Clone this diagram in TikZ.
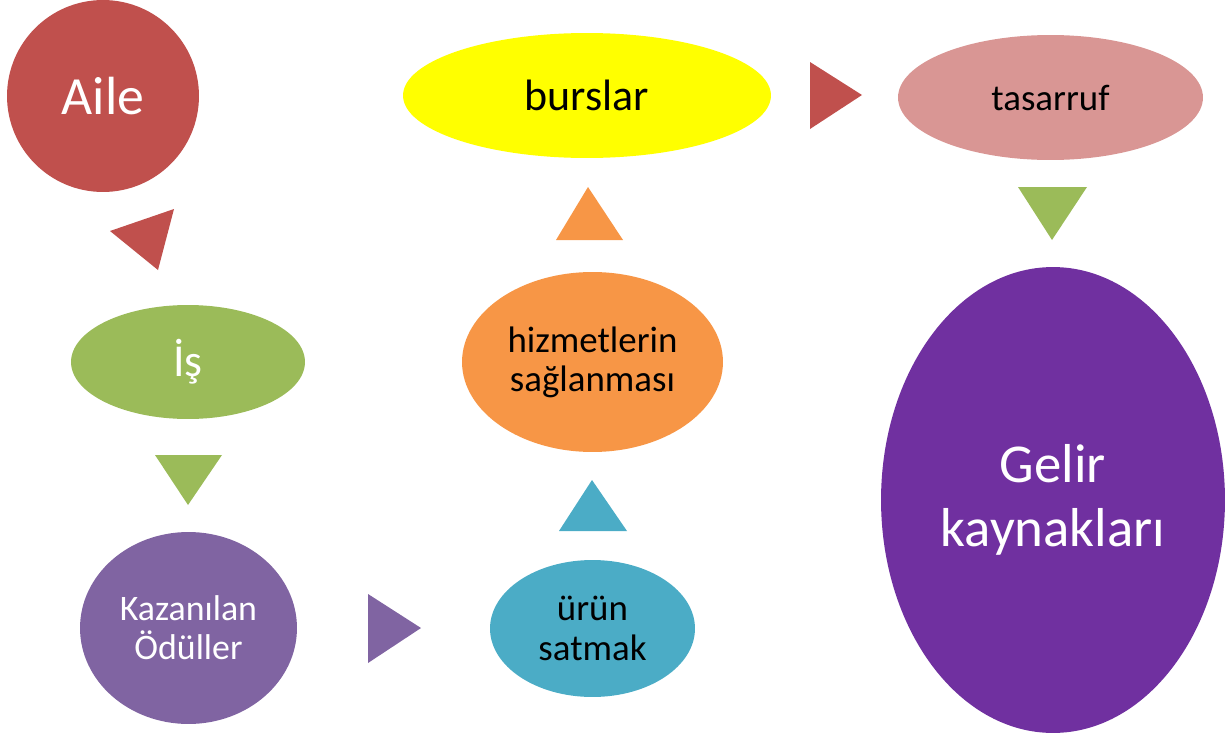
\documentclass[tikz,border=0pt]{standalone}
\usepackage{fontspec}
\setmainfont{Carlito}
\usepackage{tikz}
\usepackage{xcolor}
\usetikzlibrary{shapes.geometric}

\definecolor{aileRed}{HTML}{C0504D}
\definecolor{isGreen}{HTML}{9BBB59}
\definecolor{odulPurple}{HTML}{8064A2}
\definecolor{urunTeal}{HTML}{4BACC6}
\definecolor{hizmetOrange}{HTML}{F79646}
\definecolor{bursYellow}{HTML}{FFFF00}
\definecolor{tasarrufPink}{HTML}{D99694}
\definecolor{gelirPurple}{HTML}{7030A0}

\begin{document}
\begin{tikzpicture}[x=0.02cm,y=-0.02cm]
  \tikzstyle{blob}=[ellipse,inner sep=0pt,align=center]
  \useasboundingbox (0,0) rectangle (1231,737);

  \node[blob,fill=aileRed,text=white,minimum width=3.84cm,minimum height=3.84cm,
        font=\fontsize{30.6}{36}\selectfont] (aile) at (103,96) {Aile};
  \node[blob,fill=isGreen,text=white,minimum width=4.68cm,minimum height=2.28cm,
        font=\fontsize{26}{31}\selectfont] (is) at (188,362) {İş};
  \node[blob,fill=odulPurple,text=white,minimum width=4.34cm,minimum height=3.84cm,
        font=\fontsize{20.4}{22.1}\selectfont] (odul) at (188.5,628) {Kazanılan\\Ödüller};
  \node[blob,fill=urunTeal,minimum width=4.10cm,minimum height=2.74cm,
        font=\fontsize{21}{22.7}\selectfont] (urun) at (592.5,628.5) {ürün\\satmak};
  \node[blob,fill=hizmetOrange,minimum width=5.22cm,minimum height=3.60cm,
        font=\fontsize{21}{22.1}\selectfont] (hizmet) at (592.5,362) {hizmetlerin\\sağlanması};
  \node[blob,fill=bursYellow,minimum width=7.36cm,minimum height=2.50cm,
        font=\fontsize{25}{30}\selectfont] (burs) at (587,95.5) {burslar};
  \node[blob,fill=tasarrufPink,minimum width=6.10cm,minimum height=2.50cm,
        font=\fontsize{21}{25}\selectfont] (tasarruf) at (1050.5,97.5) {tasarruf};
  \node[blob,fill=gelirPurple,text=white,minimum width=6.88cm,minimum height=9.32cm,
        font=\fontsize{31.2}{36.3}\selectfont] (gelir) at (1053,500) {Gelir\\kaynakları};

  % arrow triangles
  \fill[aileRed] (174,209) -- (110,231) -- (158,270) -- cycle;
  \fill[isGreen] (155,455) -- (222,455) -- (188,505) -- cycle;
  \fill[odulPurple] (368,594) -- (421,628) -- (368,663) -- cycle;
  \fill[urunTeal] (559,531) -- (592,480) -- (627,531) -- cycle;
  \fill[hizmetOrange] (556,240) -- (588,187) -- (623,240) -- cycle;
  \fill[aileRed] (810,62) -- (862,95) -- (810,129) -- cycle;
  \fill[isGreen] (1018,187) -- (1087,187) -- (1052,240) -- cycle;

\end{tikzpicture}
\end{document}
